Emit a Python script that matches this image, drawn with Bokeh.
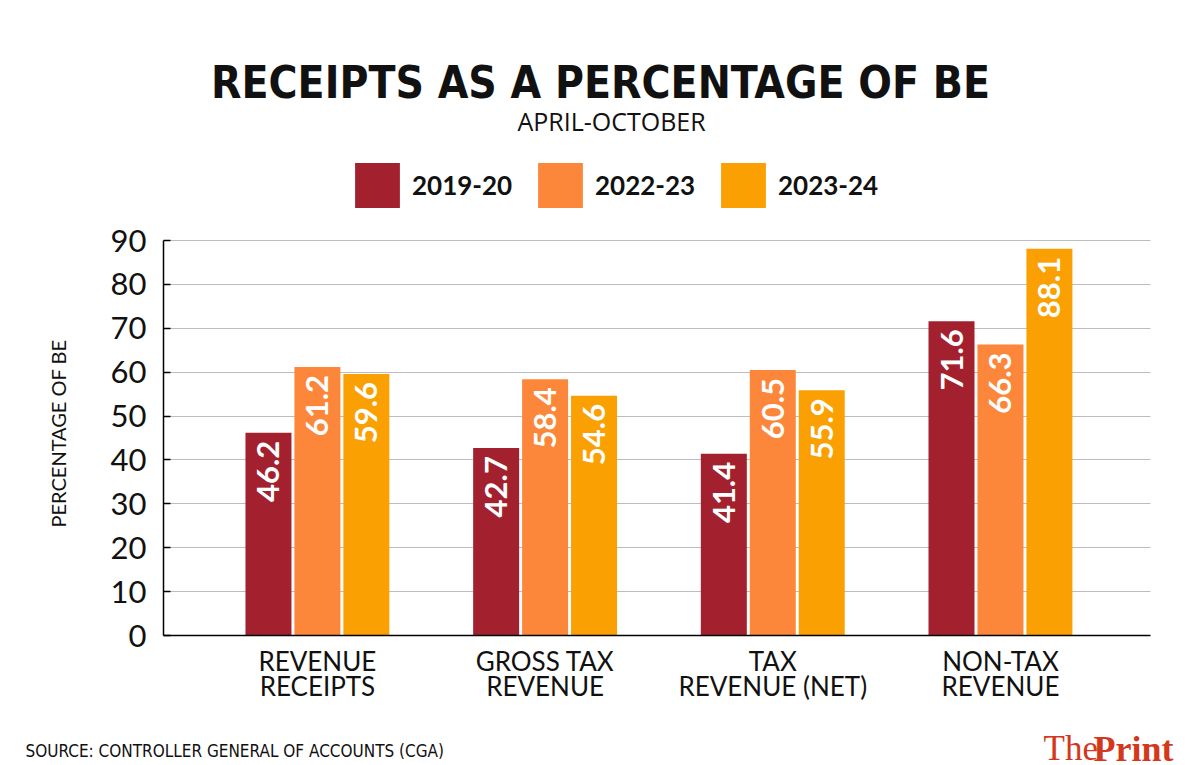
import math
from bokeh.plotting import figure
from bokeh.models import (Range1d, FixedTicker, Label, Legend, LegendItem, ColumnDataSource)
from bokeh.core.properties import value
from bokeh.embed import file_html
from bokeh.resources import INLINE

# ---- data ----
categories = ["REVENUE\nRECEIPTS", "GROSS TAX\nREVENUE", "TAX\nREVENUE (NET)", "NON-TAX\nREVENUE"]
series_names = ["2019-20", "2022-23", "2023-24"]
values_2019_20 = [46.2, 42.7, 41.4, 71.6]
values_2022_23 = [61.2, 58.4, 60.5, 66.3]
values_2023_24 = [59.6, 54.6, 55.9, 88.1]
y_ticks = [0, 10, 20, 30, 40, 50, 60, 70, 80, 90]

colors = ["#A3202F", "#FC873B", "#FBA003"]
series_values = [values_2019_20, values_2022_23, values_2023_24]

W, H = 1200, 765
# plot area (pixels): left 163, right 1150, y=90 at 240, y=0 at 635
X0, X1 = -0.676, 3.659
PX_L, PX_R = 163, 1150
PY_T, PY_B = 240, 635
sx = (PX_R - PX_L) / (X1 - X0)
sy = (PY_B - PY_T) / 90.0
x_range = Range1d(X0 - PX_L / sx, X1 + (W - PX_R) / sx)
y_range = Range1d(-(H - PY_B) / sy, 90 + PY_T / sy)

p = figure(width=W, height=H, output_backend="svg", toolbar_location=None, title=None,
           x_range=x_range, y_range=y_range,
           min_border_left=0, min_border_right=0, min_border_top=0, min_border_bottom=0)
p.outline_line_color = None
p.background_fill_color = "white"
p.border_fill_color = "white"

p.xgrid.grid_line_color = None
p.ygrid.ticker = FixedTicker(ticks=y_ticks[1:])
p.ygrid.grid_line_color = "#bdbdbd"
p.ygrid.grid_line_width = 1.2
p.ygrid.bounds = (0, 90)
p.ygrid.cross_bounds = (X0, X1)

p.yaxis.fixed_location = X0
p.yaxis.bounds = (0, 90)
p.yaxis.ticker = FixedTicker(ticks=y_ticks)
p.yaxis.major_tick_in = 7
p.yaxis.major_tick_out = 0
p.yaxis.minor_tick_line_color = None
p.yaxis.axis_line_width = 1.5
p.yaxis.major_tick_line_width = 1.5
p.yaxis.major_label_text_font = "Lato"
p.yaxis.major_label_text_font_size = "31px"
p.yaxis.major_label_text_color = "#111111"
p.yaxis.major_label_standoff = 17

p.xaxis.fixed_location = 0
p.xaxis.bounds = (X0, X1)
p.xaxis.ticker = FixedTicker(ticks=list(range(len(categories))))
p.xaxis.major_label_overrides = {i: c for i, c in enumerate(categories)}
p.xaxis.major_tick_line_color = None
p.xaxis.minor_tick_line_color = None
p.xaxis.axis_line_width = 1.5
p.xaxis.major_label_text_font = "Lato"
p.xaxis.major_label_text_font_size = "26px"
p.xaxis.major_label_text_line_height = 0.8
p.xaxis.major_label_text_color = "#111111"
p.xaxis.major_label_standoff = 3

bar_w = 0.202
step = 0.215
renderers = []
for k, (name, vals, col) in enumerate(zip(series_names, series_values, colors)):
    xs = [i + (k - 1) * step for i in range(len(categories))]
    src = ColumnDataSource(dict(x=xs, top=vals, lab=[f"{v:.1f}" for v in vals]))
    r = p.vbar(x="x", top="top", width=bar_w, bottom=0, source=src,
               fill_color=col, line_color=None)
    renderers.append(r)
    p.text(x="x", y="top", text="lab", source=src, angle=math.pi / 2,
           text_align="right", text_baseline="middle", text_color="white",
           text_font=value("Lato"), text_font_style="bold", text_font_size="31px",
           x_offset=0, y_offset=8)

legend = Legend(items=[LegendItem(label=n, renderers=[r]) for n, r in zip(series_names, renderers)],
                orientation="horizontal", location=(349, H - 213),
                glyph_width=56, glyph_height=56, label_standoff=7, label_width=110, spacing=10,
                padding=0, margin=0, border_line_color=None, background_fill_alpha=0,
                label_text_font="Lato", label_text_font_style="bold", label_text_font_size="26px",
                label_text_color="#111111")
p.add_layout(legend)

def L(text, X, Y, **kw):
    p.add_layout(Label(x=X, y=H - Y, x_units="screen", y_units="screen", text=text, **kw))

L("RECEIPTS AS A PERCENTAGE OF BE", 600, 82, text_align="center", text_baseline="alphabetic",
  text_font="DejaVu Sans Condensed", text_font_size="44px", text_font_style="bold",
  text_color="#111111")
L("APRIL-OCTOBER", 611, 120, text_align="center", text_baseline="alphabetic",
  text_font="Open Sans", text_font_size="25px", text_color="#111111")
L("PERCENTAGE OF BE", 57, 433, angle=math.pi / 2, text_align="center", text_baseline="middle",
  text_font="Lato", text_font_size="20px", text_color="#111111")
L("SOURCE: CONTROLLER GENERAL OF ACCOUNTS (CGA)", 25, 750, text_align="left", text_baseline="alphabetic",
  text_font="DejaVu Sans Condensed", text_font_size="17px", text_color="#111111")
L("The", 1043, 748, text_align="left", text_baseline="alphabetic",
  text_font="Liberation Serif", text_font_size="35px", text_color="#D4381C")
L("Print", 1093, 748, text_align="left", text_baseline="alphabetic",
  text_font="Liberation Serif", text_font_size="36px", text_font_style="bold", text_color="#D4381C")

open("out.html", "w").write(file_html(p, INLINE))
